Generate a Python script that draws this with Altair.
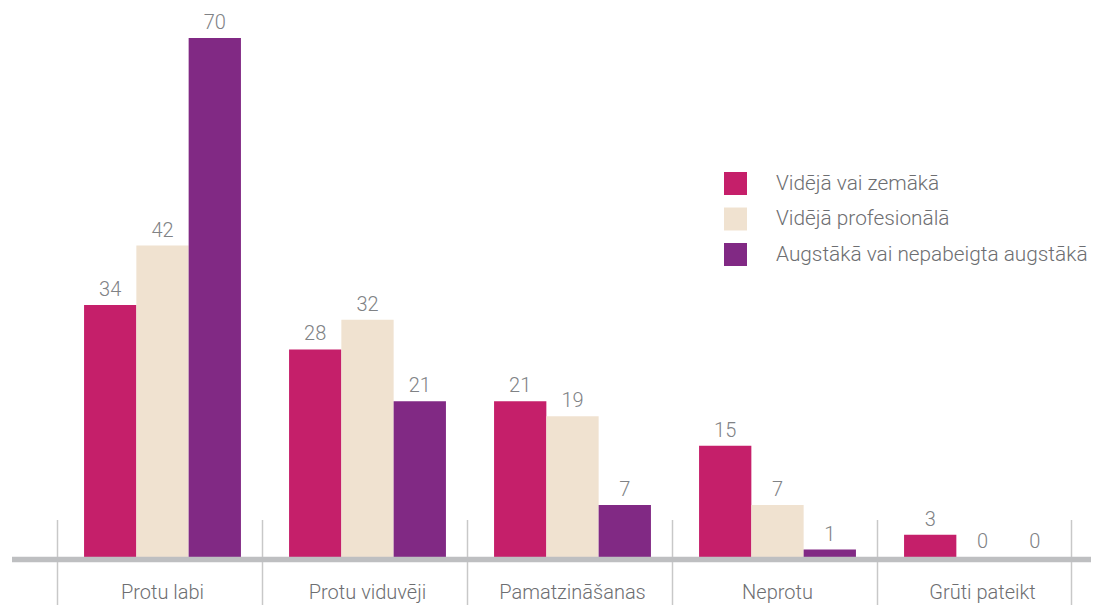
import altair as alt
import pandas as pd

categories = ["Protu labi", "Protu viduvēji", "Pamatzināšanas", "Neprotu", "Grūti pateikt"]
series = ["Vidējā vai zemākā", "Vidējā profesionālā", "Augstākā vai nepabeigta augstākā"]
vals_zemaka = [34, 28, 21, 15, 3]
vals_prof = [42, 32, 19, 7, 0]
vals_augst = [70, 21, 7, 1, 0]
colors = ["#c51f6a", "#f0e2d0", "#812984"]

rows = []
for s, vals in zip(series, [vals_zemaka, vals_prof, vals_augst]):
    for c, v in zip(categories, vals):
        rows.append({"cat": c, "series": s, "value": v})
df = pd.DataFrame(rows)
sep_df = pd.DataFrame({"cat": categories})
end_df = pd.DataFrame({"cat": [categories[-1]]})

FONT = "Roboto"
FW = 300
TXT = "#6d6e71"

xscale = alt.Scale(domain=categories, paddingInner=0, paddingOuter=0)
xoff = alt.XOffset("series:N", sort=series, scale=alt.Scale(domain=series, paddingInner=0, paddingOuter=0.46))
yscale = alt.Scale(domain=[0, 70], nice=False)

base = alt.Chart(df)

bars = base.mark_bar().encode(
    x=alt.X("cat:N", sort=categories, scale=xscale,
            axis=alt.Axis(title=None, ticks=False, domain=False, labelAngle=0,
                          labelAlign="center",
                          labelFont=FONT, labelFontWeight=FW, labelFontSize=20, labelColor=TXT,
                          labelPadding=25, labelBaseline="top")),
    xOffset=xoff,
    y=alt.Y("value:Q", scale=yscale, axis=None),
    color=alt.Color("series:N", sort=series,
                    scale=alt.Scale(domain=series, range=colors),
                    legend=alt.Legend(title=None, orient="none", legendX=664, legendY=134,
                                      symbolType="square", symbolSize=529, symbolStrokeWidth=0,
                                      labelFont=FONT, labelFontWeight=FW, labelFontSize=20.8,
                                      labelColor=TXT, labelLimit=500,
                                      labelOffset=29, rowPadding=12.5, padding=0)),
)

labels = base.mark_text(baseline="bottom", dy=-5, font=FONT, fontWeight=FW, fontSize=20,
                        color="#808285").encode(
    x=alt.X("cat:N", sort=categories, scale=xscale),
    xOffset=xoff,
    y=alt.Y("value:Q", scale=yscale),
    text=alt.Text("value:Q"),
)

seps = alt.Chart(sep_df).mark_rule(color="#c8c8c8", strokeWidth=1.5, xOffset=-2.5).encode(
    x=alt.X("cat:N", sort=categories, scale=xscale, bandPosition=0),
    y=alt.value(482), y2=alt.value(580),
)
sep_end = alt.Chart(end_df).mark_rule(color="#c8c8c8", strokeWidth=1.5, xOffset=-13.5).encode(
    x=alt.X("cat:N", sort=categories, scale=xscale, bandPosition=1),
    y=alt.value(482), y2=alt.value(580),
)

baseline = alt.Chart(end_df).mark_rule(color="#bebfc1", strokeWidth=5.5).encode(
    x=alt.value(-48), x2=alt.value(1040), y=alt.value(521.5),
)

chart = alt.layer(seps, sep_end, bars, baseline, labels).properties(
    width=1025, height=519,
    autosize=alt.AutoSizeParams(type="none"),
    padding={"left": 52, "top": 30, "right": 6, "bottom": 48},
).configure_view(strokeWidth=0, stroke=None)

chart.save("out.html", embed_options={"renderer": "svg", "actions": False})
